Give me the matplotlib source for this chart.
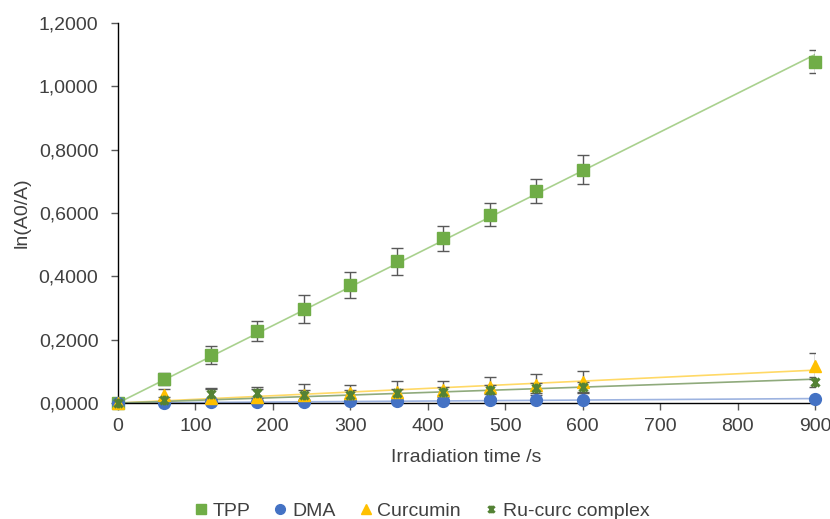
import matplotlib.pyplot as plt
import numpy as np
from matplotlib.path import Path
from matplotlib.ticker import FuncFormatter, MultipleLocator
from matplotlib.lines import Line2D

plt.rcParams['font.family'] = ['Liberation Sans', 'DejaVu Sans']

# irradiation times (s)
t = [0, 60, 120, 180, 240, 300, 360, 420, 480, 540, 600, 900]

tpp = [0.0, 0.076, 0.152, 0.227, 0.296, 0.372, 0.447, 0.520, 0.595, 0.668, 0.737, 1.077]
tpp_err = [0.0, 0.020, 0.028, 0.032, 0.044, 0.040, 0.042, 0.040, 0.035, 0.038, 0.046, 0.036]

dma = [0.0, 0.001, 0.002, 0.003, 0.004, 0.005, 0.006, 0.007, 0.008, 0.009, 0.009, 0.013]
dma_err = [0.0, 0.002, 0.002, 0.002, 0.002, 0.002, 0.002, 0.002, 0.002, 0.002, 0.002, 0.003]

curc = [0.0, 0.026, 0.016, 0.020, 0.025, 0.030, 0.036, 0.042, 0.050, 0.057, 0.066, 0.118]
curc_err = [0.0, 0.018, 0.030, 0.032, 0.036, 0.027, 0.034, 0.028, 0.033, 0.033, 0.036, 0.041]

ru = [0.0, 0.010, 0.028, 0.030, 0.026, 0.025, 0.030, 0.034, 0.042, 0.048, 0.050, 0.066]
ru_err = [0.0, 0.010, 0.015, 0.015, 0.015, 0.015, 0.015, 0.015, 0.015, 0.015, 0.015, 0.015]

# asterisk-style marker: an x with a vertical bar
star = Path([(-1, -1), (1, 1), (-1, 1), (1, -1), (0, -1.2), (0, 1.2)],
            [Path.MOVETO, Path.LINETO, Path.MOVETO, Path.LINETO, Path.MOVETO, Path.LINETO])

series = [
    ('TPP', tpp, tpp_err, '#70AD47', '#A9D18E', 's', 8.5),
    ('DMA', dma, dma_err, '#4472C4', '#9DB3E0', 'o', 8.5),
    ('Curcumin', curc, curc_err, '#FFC000', '#FFD966', '^', 9),
    ('Ru-curc complex', ru, ru_err, '#548235', '#8FAA7C', star, 7),
]

fs = 14
fig = plt.figure(figsize=(8.3, 5.19), dpi=100)
ax = fig.add_axes([0.142, 0.2235, 0.840, 0.7325])

xs = np.array(t, dtype=float)
xx = np.array([0, 900])
handles = []
for name, y, err, col, lcol, mk, ms in series:
    ys = np.array(y)
    # linear trendline through the origin
    k = np.sum(xs * ys) / np.sum(xs * xs)
    ax.plot(xx, k * xx, color=lcol, lw=1.2, zorder=2)
    ax.errorbar(xs, ys, yerr=err, fmt='none', ecolor='#595959', elinewidth=1,
                capsize=4, capthick=1, zorder=3)
    if mk is star:
        ax.plot(xs, ys, ls='none', marker=mk, ms=ms, mec=col, mew=2.2,
                zorder=4, clip_on=False)
        h = Line2D([], [], ls='none', marker=mk, ms=5.5, mec=col, mew=2)
    else:
        ax.plot(xs, ys, ls='none', marker=mk, ms=ms, mfc=col, mec=col,
                zorder=4, clip_on=False)
        h = Line2D([], [], ls='none', marker=mk, ms=7, mfc=col, mec=col)
    handles.append((h, name))

ax.set_xlim(0, 900)
ax.set_ylim(0, 1.2)
ax.xaxis.set_major_locator(MultipleLocator(100))
ax.yaxis.set_major_locator(MultipleLocator(0.2))
ax.yaxis.set_major_formatter(FuncFormatter(lambda v, p: f'{v:.4f}'.replace('.', ',')))

for s in ['top', 'right']:
    ax.spines[s].set_visible(False)
for s in ['left', 'bottom']:
    ax.spines[s].set_linewidth(1)
    ax.spines[s].set_color('black')
ax.tick_params(direction='out', length=5, width=1, labelsize=fs,
               colors='#595959', labelcolor='#404040')
ax.tick_params(axis='x', pad=6)
ax.tick_params(axis='y', pad=9)

ax.set_xlabel('Irradiation time /s', fontsize=fs, color='#404040', labelpad=10)
ax.set_ylabel('ln(A0/A)', fontsize=fs, color='#404040', labelpad=6)

fig.legend([h for h, _ in handles], [n for _, n in handles], loc='lower center',
           bbox_to_anchor=(0.508, -0.035), ncol=4, frameon=False, fontsize=fs,
           handlelength=0.7, handletextpad=0.25, columnspacing=1.2,
           labelcolor='#404040')

fig.savefig('out.png', dpi=100)
